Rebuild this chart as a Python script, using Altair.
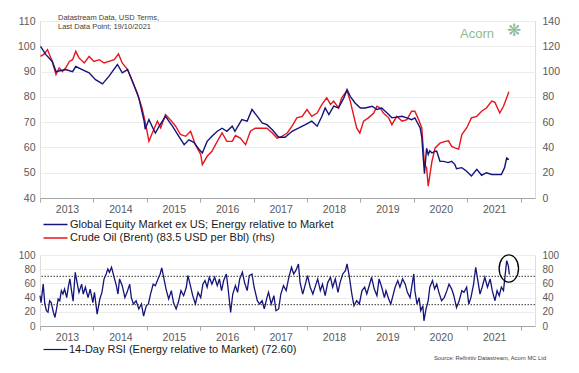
import altair as alt
import pandas as pd

# ---------------- data ----------------
EQ_NAME = "Global Equity Market ex US; Energy relative to Market"
OIL_NAME = "Crude Oil (Brent) (83.5 USD per Bbl) (rhs)"
RSI_NAME = "14-Day RSI (Energy relative to Market) (72.60)"

eq_year = [2013.01, 2013.11, 2013.23, 2013.30, 2013.48, 2013.61, 2013.67, 2013.79, 2013.92,
           2014.04, 2014.17, 2014.29, 2014.45, 2014.54, 2014.64, 2014.73, 2014.85, 2014.95, 2014.97,
           2015.04, 2015.10, 2015.16, 2015.23, 2015.35, 2015.48, 2015.60, 2015.70, 2015.79, 2015.88, 2015.98,
           2016.04, 2016.13, 2016.22, 2016.32, 2016.41, 2016.50, 2016.60, 2016.65, 2016.78, 2016.88, 2016.97,
           2017.07, 2017.16, 2017.25, 2017.35, 2017.47, 2017.59, 2017.72, 2017.84, 2017.97,
           2018.09, 2018.19, 2018.28, 2018.34, 2018.41, 2018.50, 2018.59, 2018.69, 2018.75, 2018.81, 2018.90,
           2019.00, 2019.09, 2019.22, 2019.31, 2019.40, 2019.50, 2019.59, 2019.68, 2019.78, 2019.87, 2019.96,
           2020.02, 2020.12, 2020.15, 2020.18, 2020.20, 2020.24, 2020.27, 2020.30, 2020.34, 2020.40, 2020.43,
           2020.49, 2020.56, 2020.64, 2020.71, 2020.77, 2020.80, 2020.90, 2020.99,
           2021.08, 2021.18, 2021.27, 2021.36, 2021.46, 2021.55, 2021.64, 2021.70, 2021.74, 2021.78]
eq_val = [100, 96.7, 94, 90, 90.8, 90, 92, 90.8, 89.5,
          86.8, 85.1, 88.1, 92.8, 89.5, 90.8, 86.2, 79.6, 70.4, 67.2,
          71, 68.3, 65.7, 68.3, 72.3, 68.4, 64.4, 61.1, 63, 62, 59.2,
          57.8, 62.4, 64.4, 66.4, 67.6, 66.4, 68.4, 66.4, 71, 70.4, 75,
          72.3, 69.7, 69, 67, 64, 64, 66.4, 67.6, 69,
          70.4, 68.4, 72.3, 75.6, 73, 76.3, 75.6, 79.6, 82.9, 80.2, 77.6,
          75.6, 75.6, 76.3, 75, 75.6, 73.6, 71.7, 72, 72.3, 71.7, 71,
          71.7, 67.7, 64, 55, 49.6, 59.7, 57.2, 58.7, 57.8, 58.5, 58.5,
          54.5, 54.5, 54, 54.5, 53.2, 51.6, 52, 50.6,
          48.7, 51.3, 49, 50, 49.3, 49.3, 49.3, 52, 55.8, 55.2]

oil_year = [2013.01, 2013.08, 2013.14, 2013.23, 2013.30, 2013.36, 2013.42, 2013.48, 2013.55, 2013.61,
            2013.67, 2013.73, 2013.83, 2013.92,
            2014.01, 2014.11, 2014.20, 2014.29, 2014.39, 2014.47, 2014.54, 2014.64, 2014.73, 2014.82,
            2014.91, 2014.98,
            2015.04, 2015.13, 2015.20, 2015.26, 2015.35, 2015.44, 2015.54, 2015.63, 2015.73, 2015.82, 2015.91,
            2016.01, 2016.04, 2016.13, 2016.22, 2016.32, 2016.41, 2016.50, 2016.60, 2016.66, 2016.75,
            2016.85, 2016.94,
            2017.03, 2017.16, 2017.25, 2017.35, 2017.44, 2017.53, 2017.63, 2017.72, 2017.81, 2017.91,
            2018.00, 2018.09, 2018.19, 2018.28, 2018.37, 2018.44, 2018.50, 2018.59, 2018.65, 2018.75,
            2018.81, 2018.87, 2018.93, 2018.99,
            2019.06, 2019.15, 2019.25, 2019.31, 2019.37, 2019.43, 2019.53, 2019.59, 2019.68, 2019.78,
            2019.87, 2019.96,
            2020.02, 2020.09, 2020.15, 2020.20, 2020.24, 2020.27, 2020.34, 2020.40, 2020.49, 2020.59,
            2020.65, 2020.71, 2020.77, 2020.84, 2020.90, 2020.99,
            2021.08, 2021.18, 2021.27, 2021.36, 2021.46, 2021.52, 2021.58, 2021.61, 2021.68, 2021.74, 2021.78]
oil_val = [112, 114, 117.4, 108, 97.6, 102.8, 100, 102.8, 108, 109.4,
           116, 110.8, 106.8, 112,
           108, 109.4, 106.8, 108, 109.4, 114, 106.8, 101.6, 92.4, 83.2,
           71.2, 58.2,
           44.8, 54.2, 60.8, 55.4, 66, 62, 56.8, 50.2, 48.8, 52.8, 42.2,
           34.4, 26.4, 33, 37, 44.8, 51.4, 44.8, 44.8, 49.4, 47.4,
           42.2, 52.8,
           55.2, 55.2, 55.2, 51.4, 47.4, 48.8, 51.4, 56.8, 63.4, 64.6,
           70, 64.6, 67.2, 74, 79.2, 74, 76.6, 71.2, 79.2, 85,
           76.6, 66, 55.4, 51.4,
           60.8, 63.4, 67.2, 72.6, 71.2, 67.2, 63.4, 58, 64.6, 60.8,
           62, 68.6,
           68.6, 62, 55.4, 26.4, 24, 9.4, 29, 39.6, 43.4, 44.8,
           45.2, 40.8, 39.6, 38.6, 50.2, 55.4,
           63.4, 64.6, 68.6, 71.2, 76.6, 75.6, 70, 67.2, 72.6, 79.2, 84]

rsi_year = [2013.00, 2013.02, 2013.06, 2013.09, 2013.12, 2013.15, 2013.18, 2013.21, 2013.25, 2013.28,
            2013.31, 2013.34, 2013.37, 2013.40, 2013.43, 2013.46, 2013.50, 2013.53, 2013.56, 2013.59,
            2013.62, 2013.66, 2013.70, 2013.73, 2013.78, 2013.81, 2013.85, 2013.90, 2013.94, 2013.99,
            2014.02, 2014.07, 2014.12, 2014.16, 2014.20, 2014.24, 2014.27, 2014.30, 2014.34, 2014.38,
            2014.43, 2014.46, 2014.49, 2014.54, 2014.59, 2014.63, 2014.68, 2014.71, 2014.75, 2014.80,
            2014.85, 2014.90, 2014.94, 2014.99,
            2015.03, 2015.07, 2015.12, 2015.16, 2015.21, 2015.25, 2015.28, 2015.31, 2015.36, 2015.41,
            2015.46, 2015.50, 2015.55, 2015.59, 2015.64, 2015.69, 2015.74, 2015.77, 2015.81, 2015.86,
            2015.91, 2015.96,
            2016.01, 2016.05, 2016.09, 2016.13, 2016.17, 2016.22, 2016.27, 2016.32, 2016.36, 2016.40,
            2016.44, 2016.49, 2016.52, 2016.57, 2016.61, 2016.66, 2016.70, 2016.74, 2016.79, 2016.83,
            2016.88, 2016.92, 2016.97,
            2017.01, 2017.07, 2017.11, 2017.16, 2017.20, 2017.25, 2017.28, 2017.33, 2017.38, 2017.42,
            2017.47, 2017.51, 2017.56, 2017.61, 2017.66, 2017.71, 2017.75, 2017.79, 2017.84, 2017.87,
            2017.92, 2017.97,
            2018.01, 2018.06, 2018.11, 2018.16, 2018.20, 2018.25, 2018.29, 2018.34, 2018.39, 2018.44,
            2018.48, 2018.53, 2018.58, 2018.62, 2018.67, 2018.72, 2018.75, 2018.79, 2018.84, 2018.88,
            2018.93, 2018.98,
            2019.03, 2019.08, 2019.12, 2019.21, 2019.26, 2019.31, 2019.35, 2019.40, 2019.45, 2019.48,
            2019.53, 2019.57, 2019.61, 2019.65, 2019.70, 2019.74, 2019.79, 2019.84, 2019.88, 2019.93,
            2019.96, 2020.00,
            2020.02, 2020.06, 2020.10, 2020.13, 2020.17, 2020.19, 2020.23, 2020.27, 2020.30, 2020.35,
            2020.39, 2020.43, 2020.47, 2020.52, 2020.57, 2020.62, 2020.66, 2020.71, 2020.75, 2020.80,
            2020.85, 2020.90, 2020.94, 2020.99,
            2021.03, 2021.07, 2021.12, 2021.16, 2021.20, 2021.24, 2021.28, 2021.33, 2021.38, 2021.43,
            2021.47, 2021.52, 2021.56, 2021.60, 2021.64, 2021.68, 2021.71, 2021.74, 2021.77, 2021.79]
rsi_val = [42.7, 33, 59, 31, 21.5, 19.4, 35.6, 33, 19.4, 12,
           24, 38, 35.6, 49.8, 45, 52, 40, 54.6, 66.3, 49.8,
           35, 75.6, 59, 47.4, 59, 45, 54.6, 40, 52, 33,
           47.4, 16.8, 38, 47.4, 66.3, 73.3, 80.4, 75.6, 82.7, 71,
           56.8, 45, 66.3, 56.8, 40, 47.4, 59, 40, 31, 35.6,
           24, 31, 14, 28.4,
           31, 45, 59, 56.8, 66.3, 73.3, 81.8, 71, 52, 38,
           49.8, 33, 24, 33, 49.8, 42.7, 54.6, 71, 59, 42.7,
           31, 47.4,
           40, 59, 64, 54.6, 68.6, 59, 68.6, 56.8, 66.3, 49.8,
           64, 73.3, 54.6, 19, 45, 56.8, 47.4, 66.3, 75.6, 61.5,
           49.8, 71, 73.3,
           54.6, 35.6, 31, 35.6, 24, 40, 47.4, 31, 42.7, 21.5,
           24, 45, 56.8, 49.8, 68.6, 82.7, 73.3, 78, 87.4, 61.5,
           45, 59,
           71, 54.6, 45, 56.8, 66.3, 49.8, 59, 42.7, 61.5, 68.6,
           54.6, 66.3, 47.4, 61.5, 73.3, 78, 87.4, 71, 45, 28.4,
           35.6, 31,
           49.8, 54.6, 45, 68.6, 52, 42.7, 66.3, 54.6, 40, 49.8,
           38, 31, 42.7, 54.6, 64, 54.6, 66.3, 59, 47.4, 40,
           54.6, 73.3,
           49.8, 31, 40, 21.5, 28.4, 7.3, 24, 35.6, 54.6, 64,
           52, 59, 47.4, 35.6, 40, 49.8, 59, 52, 42.7, 26,
           35.6, 49.8, 47.4, 54.6,
           31, 40, 59, 82.7, 64, 45, 54.6, 68.6, 54.6, 66.3,
           49.8, 35.6, 49.8, 42.7, 54.6, 49.8, 71, 92, 85, 72.6]

rsi_bands = [30, 70]
highlight_year = [2021.78]
highlight_value = [81]

year_ticks = list(range(2013, 2023))
left_ticks = list(range(40, 111, 10))
right_ticks = list(range(0, 141, 20))
rsi_ticks = list(range(0, 101, 20))

note_text = "Datastream Data, USD Terms,\nLast Data Point; 19/10/2021"
source_text = "Source: Refinitiv Datastream, Acorn MC Ltd"
logo_text = "Acorn"

# ---------------- styling ----------------
NAVY = "#14147a"
RED = "#e8141c"
FONT = "Liberation Sans"
LABEL = "#595959"
X_DOMAIN = [2013, 2022.27]
W = 495

eq_df = pd.DataFrame({"year": eq_year, "value": eq_val, "series": EQ_NAME})
oil_df = pd.DataFrame({"year": oil_year, "value": oil_val, "series": OIL_NAME})
rsi_df = pd.DataFrame({"year": rsi_year, "value": rsi_val, "series": RSI_NAME})
band_df = pd.DataFrame({"level": rsi_bands})
hl_df = pd.DataFrame({"year": highlight_year, "value": highlight_value})


def x_enc():
    return alt.X(
        "year:Q",
        scale=alt.Scale(domain=X_DOMAIN, nice=False, zero=False),
        axis=alt.Axis(values=year_ticks, format="d",
                      labelExpr="datum.value < 2022 ? datum.label : ''",
                      labelOffset=27, labelFlush=False, labelOverlap=False, grid=False,
                      tickSize=4, tickColor="#a6a6a6", domainColor="#a6a6a6",
                      labelColor=LABEL, labelFontSize=10.5, labelPadding=2, title=None),
    )


def y_axis(orient, values, grid, size=10.5):
    return alt.Axis(orient=orient, values=values, grid=grid, gridColor="#ececec",
                    domain=False, ticks=False, labelPadding=5 if orient == "left" else 7,
                    labelColor=LABEL, labelFontSize=size, title=None)


top_color = alt.Color(
    "series:N",
    scale=alt.Scale(domain=[EQ_NAME, OIL_NAME], range=[NAVY, RED]),
    legend=alt.Legend(orient="none", legendX=10, legendY=198, title=None,
                      symbolType="M-3,0L3,0", symbolSize=64, symbolStrokeWidth=1.5,
                      labelFontSize=11, labelColor="#1a1a1a", labelOffset=9,
                      rowPadding=1.5, padding=0, labelLimit=500),
)

oil_line = alt.Chart(oil_df).mark_line(strokeWidth=1.4).encode(
    x=x_enc(),
    y=alt.Y("value:Q", scale=alt.Scale(domain=[0, 140], nice=False, zero=False),
            axis=y_axis("right", right_ticks, False)),
    color=top_color,
)
eq_line = alt.Chart(eq_df).mark_line(strokeWidth=1.4).encode(
    x=x_enc(),
    y=alt.Y("value:Q", scale=alt.Scale(domain=[40, 110], nice=False, zero=False),
            axis=y_axis("left", left_ticks, True)),
    color=top_color,
)
note = alt.Chart(pd.DataFrame({"t": [note_text]})).mark_text(
    align="left", baseline="top", fontSize=7.5, lineBreak="\n", lineHeight=9.3,
    color="#404040", font=FONT,
).encode(text="t:N", x=alt.value(18), y=alt.value(-7))
logo = alt.Chart(pd.DataFrame({"t": [logo_text]})).mark_text(
    align="left", baseline="middle", fontSize=13, color="#8dbb8d", font=FONT,
).encode(text="t:N", x=alt.value(420), y=alt.value(12.5))
logo_icon = alt.Chart(pd.DataFrame({"t": ["\u274b"]})).mark_text(
    align="left", baseline="middle", fontSize=17, color="#8dbb8d",
).encode(text="t:N", x=alt.value(467), y=alt.value(10))

top = alt.layer(oil_line, eq_line, note, logo, logo_icon).resolve_scale(
    y="independent").properties(width=W, height=177)

rsi_color = alt.Color(
    "series:N",
    scale=alt.Scale(domain=[RSI_NAME], range=[NAVY]),
    legend=alt.Legend(orient="none", legendX=10, legendY=89, title=None,
                      symbolType="M-3,0L3,0", symbolSize=64, symbolStrokeWidth=1.2,
                      labelFontSize=11, labelColor="#1a1a1a", labelOffset=8,
                      padding=0, labelLimit=500),
)

bands = alt.Chart(band_df).mark_rule(color="#333333", strokeDash=[1.5, 1.5], strokeWidth=1).encode(
    y=alt.Y("level:Q", scale=alt.Scale(domain=[0, 100], nice=False, zero=False),
            axis=y_axis("right", rsi_ticks, False, 10)),
)
rsi_line = alt.Chart(rsi_df).mark_line(strokeWidth=1.3).encode(
    x=x_enc(),
    y=alt.Y("value:Q", scale=alt.Scale(domain=[0, 100], nice=False, zero=False),
            axis=y_axis("left", rsi_ticks, True, 10)),
    color=rsi_color,
)
ELLIPSE = "M0,-1.41A1,1.41 0 1,1 0,1.41A1,1.41 0 1,1 0,-1.41Z"
highlight = alt.Chart(hl_df).mark_point(
    shape=ELLIPSE, size=376, filled=False, color="black", strokeWidth=1.3, opacity=1,
).encode(
    x=x_enc(),
    y=alt.Y("value:Q", scale=alt.Scale(domain=[0, 100], nice=False, zero=False), axis=None),
)
source = alt.Chart(pd.DataFrame({"t": [source_text]})).mark_text(
    align="left", baseline="middle", fontSize=5.8, color="#404040", font=FONT,
).encode(text="t:N", x=alt.value(394), y=alt.value(102.5))

bottom = alt.layer(rsi_line, bands, highlight, source).resolve_scale(
    y="independent").properties(width=W, height=71)

chart = alt.vconcat(top, bottom, spacing=5).resolve_scale(
    color="independent").resolve_legend(color="independent").properties(
    padding={"left": 8, "top": 5, "right": 4, "bottom": 2},
    background="white",
).configure_view(stroke=None).configure(font=FONT).configure_axis(
    labelFont=FONT).configure_legend(labelFont=FONT)

chart.save("out.html", embed_options={"renderer": "svg", "actions": False})
